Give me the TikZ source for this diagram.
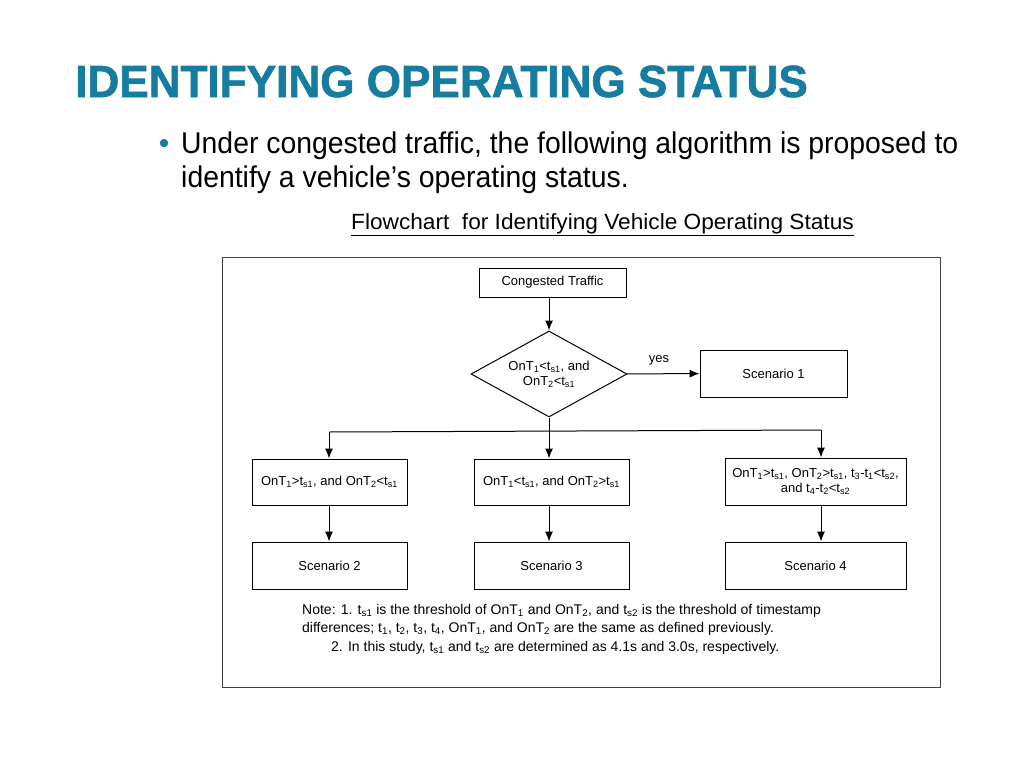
\documentclass[tikz,border=0pt]{standalone}
\usepackage{fontspec}
\setmainfont{Liberation Sans}
\newfontfamily\heavyfont[FakeBold=1.5]{Liberation Sans Bold}
\usetikzlibrary{shapes.geometric,arrows.meta}
\definecolor{titleblue}{RGB}{22,124,160}
\tikzset{
  box/.style={draw,line width=1pt,minimum width=155pt,minimum height=47pt,inner sep=2pt,align=center,font=\fontsize{13}{15}\selectfont},
  cond/.style={draw,diamond,line width=1pt,minimum width=156pt,minimum height=86pt,aspect=1.8,inner sep=0pt,align=center,font=\fontsize{13}{15}\selectfont},
  link/.style={line width=1pt,->},
}
\begin{document}
\begin{tikzpicture}[x=1pt,y=-1pt,>={Latex[length=10pt,width=8pt]}]
\useasboundingbox (0,0) rectangle (1024,768);
%\draw[step=50,gray,very thin] (0,0) grid (1024,768); %background grid
\node[anchor=base west,inner sep=0pt,text=titleblue] (title) at (75,97) {\scalebox{0.98}[1]{\heavyfont\fontsize{45}{50}\selectfont IDENTIFYING OPERATING STATUS}};
\node[anchor=base,inner sep=0pt,text=titleblue] (dot) at (164,153) {\fontsize{30}{34}\selectfont\textbullet};
\node[anchor=base west,inner sep=0pt] (bul1) at (181,153) {\scalebox{0.946}[1]{\fontsize{30}{34}\selectfont Under congested traffic, the following algorithm is proposed to}};
\node[anchor=base west,inner sep=0pt] (bul2) at (181,187) {\scalebox{0.946}[1]{\fontsize{30}{34}\selectfont identify a vehicle’s operating status.}};
\node[anchor=base west,inner sep=0pt] (cap) at (351,229) {\scalebox{1.03}[1]{\fontsize{22}{26}\selectfont\underline{Flowchart\ \ for Identifying Vehicle Operating Status}}};
\draw[line width=1pt,black!75] (222,257) rectangle (940,687); %frame

\node[box,minimum width=147pt,minimum height=29pt] (cong) at (552.5,282.5) {Congested Traffic};
\node[cond] (dec) at (549,374) {OnT\textsubscript{1}<t\textsubscript{s1}, and\\OnT\textsubscript{2}<t\textsubscript{s1}};
\node[box,minimum width=147pt] (s1) at (773.5,373.5) {Scenario 1};

\node[box,minimum height=46pt] (c2) at (329.5,482) {OnT\textsubscript{1}>t\textsubscript{s1}, and OnT\textsubscript{2}<t\textsubscript{s1}};
\node[box,minimum height=46pt] (c3) at (551.5,482) {OnT\textsubscript{1}<t\textsubscript{s1}, and OnT\textsubscript{2}>t\textsubscript{s1}};
\node[box,minimum width=181pt] (c4) at (815.5,481.5) {OnT\textsubscript{1}>t\textsubscript{s1}, OnT\textsubscript{2}>t\textsubscript{s1}, t\textsubscript{3}-t\textsubscript{1}<t\textsubscript{s2},\\and t\textsubscript{4}-t\textsubscript{2}<t\textsubscript{s2}};

\node[box] (sc2) at (329.5,565.5) {Scenario 2};
\node[box] (sc3) at (551.5,565.5) {Scenario 3};
\node[box,minimum width=181pt] (sc4) at (815.5,565.5) {Scenario 4};

\coordinate (bl) at (329,432); %branch left
\coordinate (bm) at (549,431);
\coordinate (br) at (821,430); %branch right
\draw[link] (cong.south -| dec.north) -- (dec.north);
\draw[link] (dec) -- node[pos=0.44,above=5pt,font=\fontsize{13}{15}\selectfont] (yes) {yes} (s1);
\draw[line width=1pt] (dec.south) -- (bm);
\draw[line width=1pt] (bl) -- (br);
\draw[link] (bl) -- (bl |- c2.north);
\draw[link] (bm) -- (bm |- c3.north);
\draw[link] (br) -- (br |- c4.north);
\draw[link] (c2.south -| bl) -- (sc2.north -| bl);
\draw[link] (c3.south -| bm) -- (sc3.north -| bm);
\draw[link] (c4.south -| br) -- (sc4.north -| br);

\node[anchor=base west,inner sep=0pt,font=\fontsize{14}{16}\selectfont] (note1) at (302,614) {Note: 1. t\textsubscript{s1} is the threshold of OnT\textsubscript{1} and OnT\textsubscript{2}, and t\textsubscript{s2} is the threshold of timestamp};
\node[anchor=base west,inner sep=0pt,font=\fontsize{14}{16}\selectfont] (note2) at (302,632) {differences; t\textsubscript{1}, t\textsubscript{2}, t\textsubscript{3}, t\textsubscript{4}, OnT\textsubscript{1}, and OnT\textsubscript{2} are the same as defined previously.};
\node[anchor=base west,inner sep=0pt,font=\fontsize{14}{16}\selectfont] (note3) at (331,651) {2. In this study, t\textsubscript{s1} and t\textsubscript{s2} are determined as 4.1s and 3.0s, respectively.};
\end{tikzpicture}
\end{document}
